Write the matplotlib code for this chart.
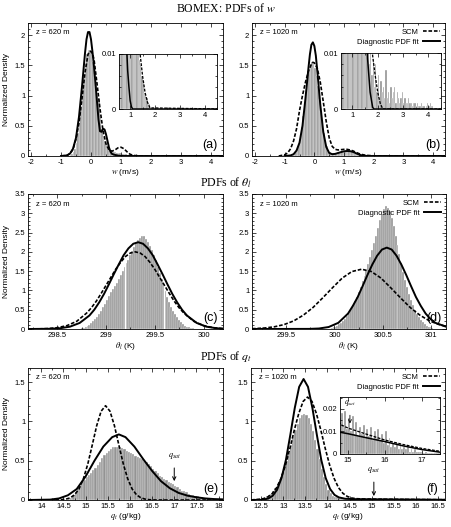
import numpy as np
import matplotlib
matplotlib.use('Agg')
import matplotlib.pyplot as plt
from matplotlib.ticker import MultipleLocator, AutoMinorLocator, FuncFormatter, FixedLocator

plt.rcParams['font.family'] = ['Liberation Sans', 'DejaVu Sans']
plt.rcParams['mathtext.fontset'] = 'stix'

# ---------------- данные: w, z = 620 m ----------------
w620_bin0, w620_dw = -0.7, 0.05
w620_hist = [0.01, 0.03, 0.06, 0.12, 0.22, 0.38, 0.55, 0.80, 1.05, 1.30,
             1.52, 1.68, 1.75, 1.76, 1.70, 1.55, 1.35, 1.15, 1.00, 0.95,
             0.65, 0.45, 0.32, 0.24, 0.18, 0.14, 0.11, 0.09, 0.08, 0.07,
             0.06, 0.055, 0.05, 0.045, 0.04, 0.035, 0.03, 0.025, 0.02, 0.016,
             0.012, 0.009, 0.008, 0.006, 0.005, 0.003, 0.003, 0.002, 0.001, 0.001]
w620_fit_x = [-1.0, -0.8, -0.7, -0.6, -0.5, -0.4, -0.3, -0.2, -0.15, -0.1, -0.05, 0.0,
              0.05, 0.1, 0.15, 0.2, 0.25, 0.3, 0.35, 0.4, 0.45, 0.5, 0.55, 0.6, 0.65,
              0.7, 0.75, 0.8, 0.85, 0.9, 0.95, 1.0, 1.05, 1.1, 4.6]
w620_fit_y = [0.0, 0.01, 0.04, 0.12, 0.30, 0.65, 1.15, 1.70, 1.93, 2.05, 2.05, 1.93,
              1.72, 1.48, 1.20, 0.90, 0.60, 0.41, 0.40, 0.45, 0.44, 0.36, 0.25, 0.14, 0.07,
              0.035, 0.025, 0.018, 0.012, 0.007, 0.004, 0.0015, 0.0004, 0.0, 0.0]
w620_scm_x = [-1.0, -0.8, -0.7, -0.6, -0.5, -0.4, -0.3, -0.2, -0.1, -0.05, 0.0, 0.05,
              0.1, 0.2, 0.3, 0.4, 0.5, 0.6, 0.7, 0.8, 0.9, 1.0, 1.1, 1.2, 1.3, 1.4,
              1.5, 1.6, 1.7, 1.8, 4.6]
w620_scm_y = [0.0, 0.01, 0.04, 0.11, 0.28, 0.55, 0.95, 1.38, 1.68, 1.73, 1.73, 1.69,
              1.60, 1.20, 0.78, 0.42, 0.20, 0.10, 0.08, 0.10, 0.135, 0.145, 0.12, 0.07, 0.03, 0.01,
              0.006, 0.003, 0.0012, 0.0002, 0.0]

# ---------------- данные: w, z = 1020 m ----------------
w1020_bin0, w1020_dw = -0.8, 0.05
w1020_hist = [0.01, 0.02, 0.04, 0.07, 0.12, 0.20, 0.32, 0.48, 0.66, 0.86,
              1.06, 1.25, 1.40, 1.50, 1.55, 1.53, 1.45, 1.32, 1.15, 0.95,
              0.75, 0.55, 0.38, 0.25, 0.16, 0.10, 0.07, 0.055, 0.05, 0.05,
              0.055, 0.06, 0.065, 0.07, 0.075, 0.08, 0.08, 0.08, 0.08, 0.075,
              0.07, 0.06, 0.05, 0.04, 0.03, 0.022, 0.018, 0.012, 0.014, 0.008,
              0.011, 0.006, 0.009, 0.004, 0.008, 0.003, 0.006, 0.002, 0.005, 0.003,
              0.004, 0.002, 0.007, 0.002, 0.003, 0.001, 0.004, 0.002, 0.003, 0.004,
              0.001, 0.003, 0.002, 0.001, 0.002, 0.003, 0.001, 0.002, 0.001, 0.001,
              0.002, 0.001, 0.001, 0.0005, 0.001, 0.001, 0.0005, 0.001, 0.0005, 0.0005,
              0.001, 0.0005, 0.0005, 0.0, 0.0005, 0.001, 0.0005, 0.001, 0.0005, 0.0005]
w1020_fit_x = [-1.0, -0.8, -0.7, -0.6, -0.5, -0.4, -0.3, -0.2, -0.15, -0.1, -0.05, 0.0,
               0.05, 0.1, 0.2, 0.3, 0.4, 0.5, 0.6, 0.7, 0.8, 0.9, 1.0, 1.1, 1.2, 1.3,
               1.4, 1.5, 1.6, 1.7, 1.8, 1.85, 4.6]
w1020_fit_y = [0.0, 0.01, 0.03, 0.09, 0.22, 0.50, 0.95, 1.45, 1.68, 1.84, 1.88, 1.82,
               1.66, 1.40, 0.85, 0.40, 0.15, 0.05, 0.03, 0.035, 0.05, 0.065, 0.078, 0.083, 0.08, 0.068,
               0.045, 0.025, 0.009, 0.003, 0.0003, 0.0, 0.0]
w1020_scm_x = [-1.2, -1.0, -0.9, -0.8, -0.7, -0.6, -0.5, -0.4, -0.3, -0.2, -0.1, -0.05,
               0.0, 0.1, 0.2, 0.3, 0.4, 0.5, 0.6, 0.7, 0.8, 0.9, 1.0, 1.1, 1.2, 1.3,
               1.4, 1.5, 1.6, 1.7, 1.8, 1.9, 2.0, 2.1, 2.2, 4.6]
w1020_scm_y = [0.0, 0.02, 0.05, 0.12, 0.25, 0.45, 0.75, 1.00, 1.22, 1.40, 1.52, 1.55,
               1.54, 1.45, 1.22, 0.90, 0.57, 0.30, 0.16, 0.11, 0.10, 0.105, 0.11, 0.11, 0.10, 0.085,
               0.06, 0.04, 0.025, 0.015, 0.0095, 0.006, 0.003, 0.001, 0.0, 0.0]

# ---------------- данные: theta_l, z = 620 m ----------------
th620_bin0, th620_dw = 298.74, 0.02
th620_hist = [0.02, 0.03, 0.05, 0.08, 0.11, 0.15, 0.20, 0.26, 0.32, 0.39,
              0.47, 0.56, 0.66, 0.76, 0.86, 0.95, 1.04, 1.12, 1.20, 1.30,
              1.40, 1.50, 1.60, 1.70, 1.80, 1.92, 2.02, 2.12, 2.22, 2.30,
              2.36, 2.42, 2.40, 2.34, 2.26, 2.16, 2.04, 1.92, 1.78, 1.62,
              1.46, 1.30, 1.14, 0.98, 0.84, 0.70, 0.58, 0.47, 0.38, 0.30,
              0.23, 0.17, 0.12, 0.09, 0.06, 0.04, 0.03, 0.02, 0.01, 0.005]
th620_fit_x = [298.2, 298.43, 298.53, 298.63, 298.73, 298.83, 298.88, 298.93, 298.98, 299.03,
               299.08, 299.13, 299.18, 299.23, 299.28, 299.33, 299.38, 299.43, 299.48, 299.53,
               299.58, 299.63, 299.68, 299.73, 299.78, 299.83, 299.93, 300.03, 300.13, 300.2]
th620_fit_y = [0.0, 0.006, 0.020, 0.060, 0.157, 0.35, 0.50, 0.69, 0.91, 1.16,
               1.42, 1.67, 1.91, 2.09, 2.21, 2.25, 2.21, 2.09, 1.91, 1.67,
               1.42, 1.16, 0.91, 0.69, 0.50, 0.35, 0.157, 0.060, 0.020, 0.008]
th620_scm_x = [298.2, 298.3, 298.4, 298.5, 298.6, 298.7, 298.8, 298.85, 298.9, 298.95,
               299.0, 299.05, 299.1, 299.15, 299.2, 299.25, 299.3, 299.35, 299.4, 299.45,
               299.5, 299.55, 299.6, 299.65, 299.7, 299.75, 299.8, 299.9, 300.0, 300.1, 300.2]
th620_scm_y = [0.001, 0.003, 0.011, 0.034, 0.088, 0.20, 0.41, 0.55, 0.72, 0.92,
               1.13, 1.34, 1.55, 1.73, 1.88, 1.97, 2.0, 1.97, 1.88, 1.73,
               1.55, 1.34, 1.13, 0.92, 0.72, 0.55, 0.41, 0.20, 0.088, 0.034, 0.011]

# ---------------- данные: theta_l, z = 1020 m ----------------
th1020_bin0, th1020_dw = 299.94, 0.02
th1020_hist = [0.01, 0.02, 0.04, 0.06, 0.09, 0.12, 0.16, 0.21, 0.27, 0.34,
               0.42, 0.51, 0.61, 0.72, 0.84, 0.97, 1.10, 1.24, 1.38, 1.53,
               1.69, 1.86, 2.04, 2.22, 2.42, 2.62, 2.82, 2.98, 3.10, 3.18,
               3.15, 3.05, 2.88, 2.66, 2.42, 2.18, 1.94, 1.70, 1.48, 1.27,
               1.08, 0.91, 0.76, 0.62, 0.50, 0.40, 0.31, 0.24, 0.18, 0.13,
               0.09, 0.06, 0.04, 0.02, 0.01]
th1020_fit_x = [299.15, 299.74, 299.84, 299.94, 300.04, 300.14, 300.19, 300.24, 300.29, 300.34,
                300.39, 300.44, 300.49, 300.54, 300.59, 300.64, 300.69, 300.74, 300.79, 300.84,
                300.89, 300.94, 300.99, 301.04, 301.15]
th1020_fit_y = [0.0, 0.003, 0.013, 0.051, 0.16, 0.40, 0.60, 0.83, 1.11, 1.40,
                1.67, 1.90, 2.06, 2.11, 2.06, 1.90, 1.67, 1.40, 1.11, 0.83,
                0.60, 0.40, 0.26, 0.16, 0.06]
th1020_scm_x = [299.15, 299.18, 299.28, 299.38, 299.48, 299.58, 299.68, 299.78, 299.88, 299.98,
                300.08, 300.18, 300.28, 300.38, 300.48, 300.58, 300.68, 300.78, 300.88, 300.98,
                301.08, 301.15]
th1020_scm_y = [0.009, 0.011, 0.026, 0.057, 0.114, 0.21, 0.36, 0.56, 0.81, 1.07,
                1.32, 1.49, 1.55, 1.49, 1.32, 1.07, 0.81, 0.56, 0.36, 0.21,
                0.114, 0.07]

# ---------------- данные: q_t, z = 620 m ----------------
qt620_bin0, qt620_dw = 14.6, 0.05
qt620_hist = [0.01, 0.03, 0.06, 0.10, 0.14, 0.18, 0.22, 0.26, 0.29, 0.32,
              0.35, 0.38, 0.41, 0.45, 0.49, 0.53, 0.57, 0.60, 0.63, 0.65,
              0.67, 0.68, 0.68, 0.67, 0.66, 0.65, 0.63, 0.61, 0.60, 0.58,
              0.56, 0.55, 0.53, 0.52, 0.50, 0.48, 0.46, 0.43, 0.40, 0.37,
              0.34, 0.31, 0.29, 0.27, 0.25, 0.23, 0.22, 0.20, 0.18, 0.16,
              0.14, 0.12, 0.11, 0.10, 0.08, 0.07, 0.06, 0.05, 0.045, 0.04,
              0.035, 0.03, 0.025, 0.02, 0.015, 0.012, 0.01, 0.008, 0.006, 0.005]
qt620_fit_x = [13.7, 14.2, 14.4, 14.6, 14.8, 15.0, 15.2, 15.4, 15.6, 15.75, 15.9,
               16.1, 16.3, 16.5, 16.7, 16.9, 17.1, 17.3, 17.5, 17.7, 17.9, 18.1]
qt620_fit_y = [0.0, 0.005, 0.02, 0.06, 0.14, 0.30, 0.50, 0.68, 0.80, 0.835, 0.80,
               0.68, 0.52, 0.37, 0.24, 0.15, 0.09, 0.055, 0.035, 0.02, 0.012, 0.008]
qt620_scm_x = [13.7, 14.35, 14.45, 14.55, 14.65, 14.75, 14.85, 14.95, 15.05, 15.15, 15.25,
               15.35, 15.45, 15.55, 15.65, 15.75, 15.85, 15.95, 16.05, 16.15, 16.25,
               16.35, 16.45, 16.6, 18.1]
qt620_scm_y = [0.0, 0.002, 0.003, 0.010, 0.027, 0.065, 0.14, 0.27, 0.46, 0.70, 0.946,
               1.13, 1.20, 1.13, 0.946, 0.70, 0.46, 0.27, 0.14, 0.065, 0.027,
               0.010, 0.003, 0.0, 0.0]
qt620_qsat = 17.0

# ---------------- данные: q_t, z = 1020 m ----------------
qt1020_bin0, qt1020_dw = 12.45, 0.05
qt1020_hist = [0.01, 0.02, 0.03, 0.045, 0.06, 0.08, 0.11, 0.15, 0.20, 0.26,
               0.33, 0.41, 0.50, 0.60, 0.70, 0.80, 0.89, 0.97, 1.04, 1.08,
               1.10, 1.08, 1.04, 0.97, 0.88, 0.77, 0.65, 0.52, 0.40, 0.29,
               0.20, 0.13, 0.085, 0.055, 0.04, 0.032, 0.027, 0.024, 0.022, 0.021,
               0.020, 0.019, 0.019, 0.018, 0.018, 0.017, 0.016, 0.018, 0.012, 0.019,
               0.011, 0.016, 0.010, 0.017, 0.009, 0.014, 0.008, 0.012, 0.009, 0.013,
               0.007, 0.011, 0.008, 0.012, 0.006, 0.010, 0.007, 0.011, 0.006, 0.009,
               0.005, 0.010, 0.004, 0.007, 0.003, 0.005, 0.003, 0.005, 0.002, 0.004,
               0.002, 0.003, 0.002, 0.003, 0.001, 0.002, 0.001, 0.002, 0.001, 0.001,
               0.001, 0.001, 0.0005, 0.001, 0.0005, 0.0005, 0.0005, 0.0005, 0.0003, 0.0003,
               0.0003]
qt1020_fit_x = [12.27, 12.5, 12.56, 12.66, 12.76, 12.86, 12.96, 13.06, 13.16, 13.26,
                13.36, 13.46, 13.56, 13.66, 13.76, 13.86, 13.96, 14.06, 14.16, 14.26,
                14.4, 14.6, 14.8, 15.0, 15.5, 16.0, 16.5, 17.0, 17.5]
qt1020_fit_y = [0.0, 0.002, 0.006, 0.019, 0.053, 0.13, 0.28, 0.51, 0.83, 1.17,
                1.44, 1.54, 1.44, 1.17, 0.83, 0.51, 0.28, 0.14, 0.065, 0.033,
                0.016, 0.011, 0.0096, 0.009, 0.0072, 0.0055, 0.0036, 0.002, 0.0008]
qt1020_scm_x = [12.27, 12.45, 12.55, 12.65, 12.75, 12.85, 12.95, 13.05, 13.15, 13.25,
                13.35, 13.45, 13.55, 13.65, 13.75, 13.85, 13.95, 14.05, 14.15, 14.25,
                14.35, 14.45, 14.55, 14.65, 14.8, 15.0, 15.5, 16.0, 16.5, 17.0, 17.5]
qt1020_scm_y = [0.001, 0.009, 0.017, 0.039, 0.082, 0.157, 0.276, 0.444, 0.656, 0.89,
                1.10, 1.255, 1.31, 1.255, 1.10, 0.89, 0.656, 0.444, 0.276, 0.157,
                0.085, 0.045, 0.025, 0.017, 0.013, 0.0115, 0.0088, 0.0062, 0.0042, 0.0025, 0.0012]
qt1020_qsat = 15.05

HIST_COLOR = '#939393'
fmt = FuncFormatter(lambda v, p: f'{v:g}')


def draw_panel(ax, bin0, dw, hist, fit_x, fit_y, scm_x, scm_y, lw=1.4):
    """Гистограмма LES + две кривые"""
    left = bin0 + dw * np.arange(len(hist))
    ax.bar(left, hist, width=dw, align='edge', color=HIST_COLOR,
           edgecolor='white', linewidth=0.25, zorder=1)
    ax.plot(scm_x, scm_y, color='black', lw=lw * 0.85, ls=(0, (2.2, 1.1)),
            label='SCM', zorder=3)
    ax.plot(fit_x, fit_y, color='black', lw=lw, label='Diagnostic PDF fit', zorder=3)


def style(ax, xlim, ylim, xstep, ystep, xminor=2, yminor=5):
    ax.set_xlim(*xlim)
    ax.set_ylim(*ylim)
    ax.xaxis.set_major_locator(MultipleLocator(xstep))
    if ystep is not None:
        ax.yaxis.set_major_locator(MultipleLocator(ystep))
    ax.xaxis.set_minor_locator(AutoMinorLocator(xminor))
    ax.yaxis.set_minor_locator(AutoMinorLocator(yminor))
    ax.xaxis.set_major_formatter(fmt)
    ax.yaxis.set_major_formatter(fmt)
    ax.tick_params(which='both', direction='in', top=True, right=True,
                   labelsize=5.5, pad=2, width=0.5)
    ax.tick_params(which='major', length=3)
    ax.tick_params(which='minor', length=1.5)
    for s in ax.spines.values():
        s.set_linewidth(0.6)


fig = plt.figure(figsize=(4.52, 5.27), dpi=100)
W, H = 452.0, 527.0


def add_ax(x0, x1, y0, y1):
    # пиксельные координаты -> доли фигуры
    return fig.add_axes([x0 / W, 1 - y1 / H, (x1 - x0) / W, (y1 - y0) / H])


ax_a = add_ax(28, 223, 23, 156)
ax_b = add_ax(252, 445, 23, 156)
ax_c = add_ax(28, 223, 194, 329)
ax_d = add_ax(252, 446, 194, 329)
ax_e = add_ax(28, 223, 368, 500)
ax_f = add_ax(251, 445, 368, 500)

draw_panel(ax_a, w620_bin0, w620_dw, w620_hist, w620_fit_x, w620_fit_y, w620_scm_x, w620_scm_y)
draw_panel(ax_b, w1020_bin0, w1020_dw, w1020_hist, w1020_fit_x, w1020_fit_y, w1020_scm_x, w1020_scm_y)
draw_panel(ax_c, th620_bin0, th620_dw, th620_hist, th620_fit_x, th620_fit_y, th620_scm_x, th620_scm_y)
draw_panel(ax_d, th1020_bin0, th1020_dw, th1020_hist, th1020_fit_x, th1020_fit_y, th1020_scm_x, th1020_scm_y)
draw_panel(ax_e, qt620_bin0, qt620_dw, qt620_hist, qt620_fit_x, qt620_fit_y, qt620_scm_x, qt620_scm_y)
draw_panel(ax_f, qt1020_bin0, qt1020_dw, qt1020_hist, qt1020_fit_x, qt1020_fit_y, qt1020_scm_x, qt1020_scm_y)

style(ax_a, (-2.1, 4.4), (0, 2.2), 1, 0.5)
style(ax_b, (-2.1, 4.4), (0, 2.2), 1, 0.5)
style(ax_c, (298.2, 300.2), (0, 3.5), 0.5, 0.5)
style(ax_d, (299.15, 301.15), (0, 3.5), 0.5, 0.5)
style(ax_e, (13.7, 18.1), (0, 1.68), 0.5, 0.5)
style(ax_f, (12.27, 16.66), (0, 1.68), 0.5, 0.5)

for ax, lab in [(ax_a, '$w$ (m/s)'), (ax_b, '$w$ (m/s)'),
                (ax_c, r'$\theta_l$ (K)'), (ax_d, r'$\theta_l$ (K)'),
                (ax_e, '$q_t$ (g/kg)'), (ax_f, '$q_t$ (g/kg)')]:
    ax.set_xlabel(lab, fontsize=6, labelpad=1)

for ax in (ax_a, ax_c, ax_e):
    ax.set_ylabel('Normalized Density', fontsize=6, labelpad=3)
    ax.text(0.04, 0.925, 'z = 620 m', transform=ax.transAxes, fontsize=5.5, va='center')
for ax in (ax_b, ax_d, ax_f):
    ax.text(0.04, 0.925, 'z = 1020 m', transform=ax.transAxes, fontsize=5.5, va='center')
    ax.legend(loc='upper right', frameon=False, markerfirst=False, fontsize=5.5,
              handlelength=2.2, borderaxespad=0.3, labelspacing=0.35, handletextpad=0.5)

for ax, letter in zip((ax_a, ax_b, ax_c, ax_d, ax_e, ax_f), 'abcdef'):
    ax.text(0.935, 0.085, f'({letter})', transform=ax.transAxes, fontsize=9,
            ha='center', va='center')

# стрелки q_sat
ax_e.annotate('$q_{sat}$', xy=(qt620_qsat, 0.24), xytext=(qt620_qsat, 0.56),
              fontsize=6, ha='center', va='center',
              arrowprops=dict(arrowstyle='->', lw=0.7, shrinkA=3, shrinkB=0))
ax_f.annotate('$q_{sat}$', xy=(qt1020_qsat, 0.05), xytext=(qt1020_qsat, 0.38),
              fontsize=6, ha='center', va='center',
              arrowprops=dict(arrowstyle='->', lw=0.7, shrinkA=3, shrinkB=0))

# вставки (хвосты распределений)
in_a = add_ax(119, 217, 54, 109)
in_b = add_ax(341, 441, 53, 109)
in_f = add_ax(340, 440, 397, 454)
draw_panel(in_a, w620_bin0, w620_dw, w620_hist, w620_fit_x, w620_fit_y, w620_scm_x, w620_scm_y, lw=1.1)
draw_panel(in_b, w1020_bin0, w1020_dw, w1020_hist, w1020_fit_x, w1020_fit_y, w1020_scm_x, w1020_scm_y, lw=1.1)
draw_panel(in_f, qt1020_bin0, qt1020_dw, qt1020_hist, qt1020_fit_x, qt1020_fit_y, qt1020_scm_x, qt1020_scm_y, lw=1.1)
for ax in (in_a, in_b):
    style(ax, (0.55, 4.5), (0, 0.01), 1, None, xminor=2, yminor=5)
    ax.yaxis.set_major_locator(FixedLocator([0, 0.01]))
style(in_f, (14.78, 17.5), (0, 0.0253), 1, 0.01, xminor=2, yminor=2)
for ax in (in_a, in_b, in_f):
    ax.set_facecolor('white')
    ax.set_zorder(5)
in_f.annotate('$q_{sat}$', xy=(qt1020_qsat, 0.0135), xytext=(qt1020_qsat, 0.0225),
              fontsize=5.5, ha='center', va='center',
              arrowprops=dict(arrowstyle='->', lw=0.6, shrinkA=3, shrinkB=0))

# заголовки групп
fig.text(0.5, 1 - 8 / H, 'BOMEX: PDFs of $w$', ha='center', va='center',
         family='Liberation Serif', fontsize=8.5)
fig.text(0.5, 1 - 183 / H, r'PDFs of $\theta_l$', ha='center', va='center',
         family='Liberation Serif', fontsize=8.5)
fig.text(0.5, 1 - 357 / H, 'PDFs of $q_t$', ha='center', va='center',
         family='Liberation Serif', fontsize=8.5)

fig.savefig('out.png', dpi=100)
